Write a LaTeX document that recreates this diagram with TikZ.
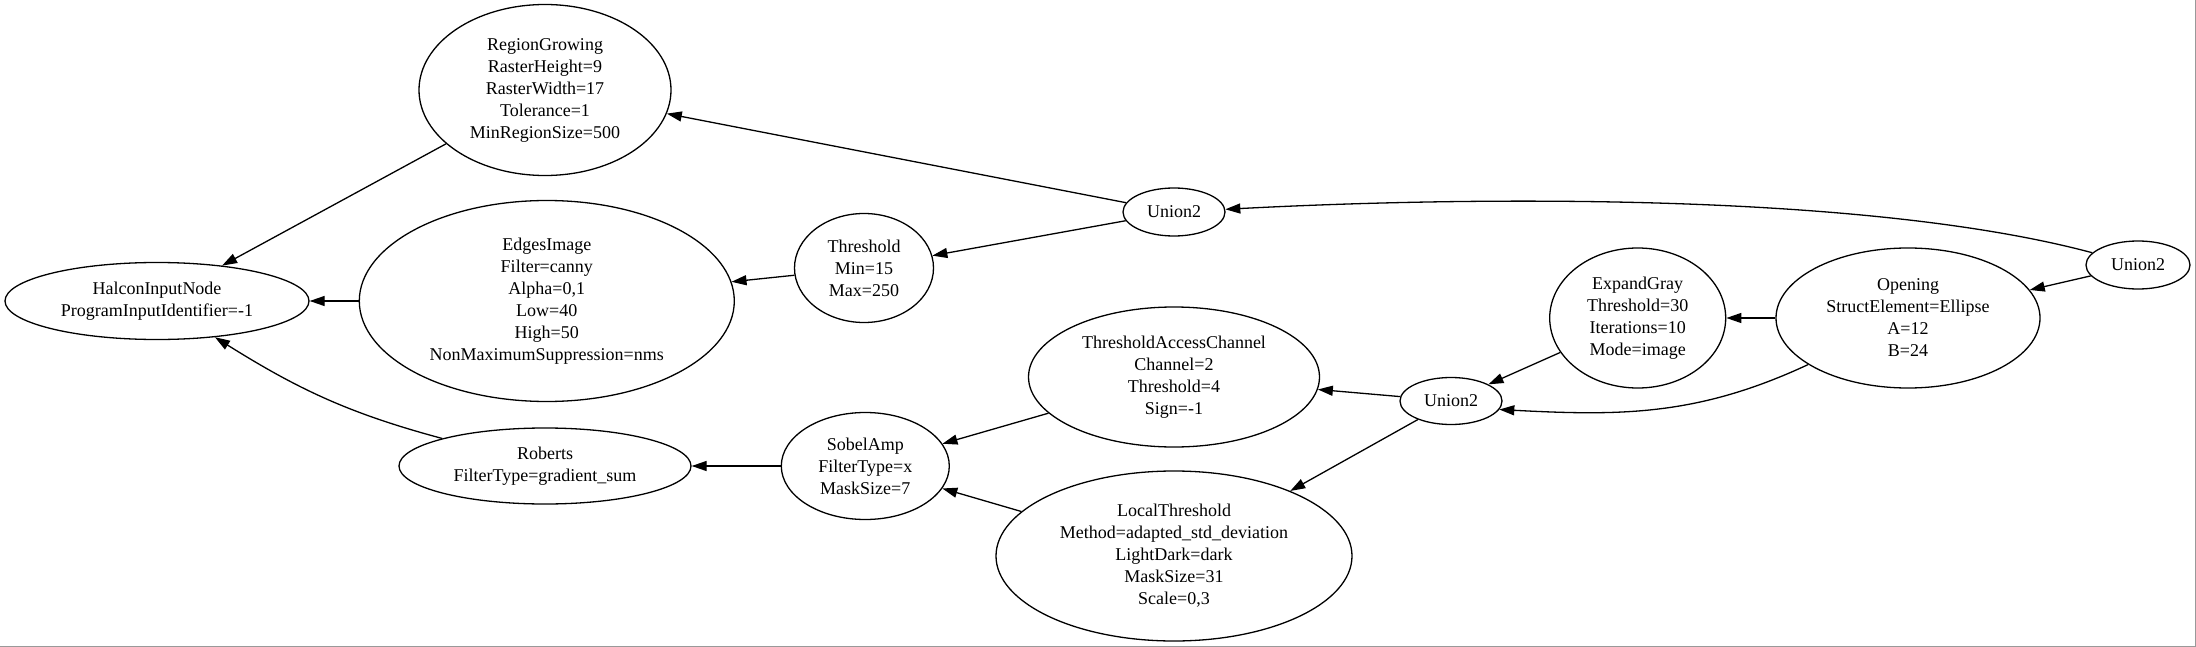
\documentclass[tikz,border=0pt]{standalone}
\usepackage{fontspec}
\setmainfont{Liberation Serif}
\usepackage{tikz}
\usetikzlibrary{shapes, positioning, arrows.meta}

\begin{document}
\begin{tikzpicture}[
    x = 0.5pt, y = 0.5pt, align = center,
    font = \fontsize{9}{11}\selectfont,
    operator/.style = {ellipse, draw, line width = 0.65pt, inner sep = 0pt},
    flow/.style = {arrows = ->, line width = 0.65pt, > = {Triangle[length = 7.5pt, width = 5pt]}},
    frame/.style = {draw = black!40, line width = 1pt},
    ]
    \useasboundingbox (0,0) rectangle (2196,-647);

    % draw input side
    \node [operator, minimum width = 152pt, minimum height = 38.5pt] (halcon) at (157,-301) {HalconInputNode\\ProgramInputIdentifier=-1};
    \node [operator, minimum width = 126pt, minimum height = 85.5pt] (regiongrow) at (545,-90) {RegionGrowing\\RasterHeight=9\\RasterWidth=17\\Tolerance=1\\MinRegionSize=500};
    \node [operator, minimum width = 187.5pt, minimum height = 100.5pt] (edges) [right = 24.5pt of halcon] {EdgesImage\\Filter=canny\\Alpha=0,1\\Low=40\\High=50\\NonMaximumSuppression=nms};
    \node [operator, minimum width = 146pt, minimum height = 38pt] (roberts) at (545,-466) {Roberts\\FilterType=gradient\_sum};

    % draw middle operators
    \node [operator, minimum width = 69.5pt, minimum height = 54.5pt] (thresh) at (864,-268) {Threshold\\Min=15\\Max=250};
    \node [operator, minimum width = 84pt, minimum height = 53.5pt] (sobel) [right = 44.5pt of roberts] {SobelAmp\\FilterType=x\\MaskSize=7};
    \node [operator, minimum width = 51pt, minimum height = 24pt] (uniontop) at (1174,-212) {Union2};
    \node [operator, minimum width = 145.5pt, minimum height = 70pt] (tac) at (1174,-377) {ThresholdAccessChannel\\Channel=2\\Threshold=4\\Sign=-1};
    \node [operator, minimum width = 178pt, minimum height = 85pt] (localthresh) at (1174,-556) {LocalThreshold\\Method=adapted\_std\_deviation\\LightDark=dark\\MaskSize=31\\Scale=0,3};

    % draw output side
    \node [operator, minimum width = 51pt, minimum height = 23.5pt] (unionmid) at (1451,-401) {Union2};
    \node [operator, minimum width = 132pt, minimum height = 70pt] (opening) at (1908,-318) {Opening\\StructElement=Ellipse\\A=12\\B=24};
    \node [operator, minimum width = 88pt, minimum height = 70pt] (expand) [left = 24.5pt of opening] {ExpandGray\\Threshold=30\\Iterations=10\\Mode=image};
    \node [operator, minimum width = 52pt, minimum height = 24pt] (unionright) at (2138,-265) {Union2};

    % draw paths
    \draw [flow] (regiongrow) -- (halcon);
    \draw [flow] (edges) -- (halcon);
    \draw [flow] (roberts) to [out = 165, in = -32] (halcon);
    \draw [flow] (uniontop) -- (regiongrow);
    \draw [flow] (uniontop) -- (thresh);
    \draw [flow] (thresh) -- (edges);
    \draw [flow] (sobel) -- (roberts);
    \draw [flow] (tac) -- (sobel);
    \draw [flow] (localthresh) -- (sobel);
    \draw [flow] (unionmid) -- (tac);
    \draw [flow] (unionmid) -- (localthresh);
    \draw [flow] (expand) -- (unionmid);
    \draw [flow] (opening) to [out = 205, in = -3] (unionmid.-10);
    \draw [flow] (opening) -- (expand);
    \draw [flow] (unionright) -- (opening);
    \draw [flow] (unionright) to [out = 165, in = 3, looseness = 0.7] (uniontop);

    % frame edges of the shot
    \draw [frame] (0,-646.5) -- (2195.5,-646.5) -- (2195.5,0);
\end{tikzpicture}
\end{document}
